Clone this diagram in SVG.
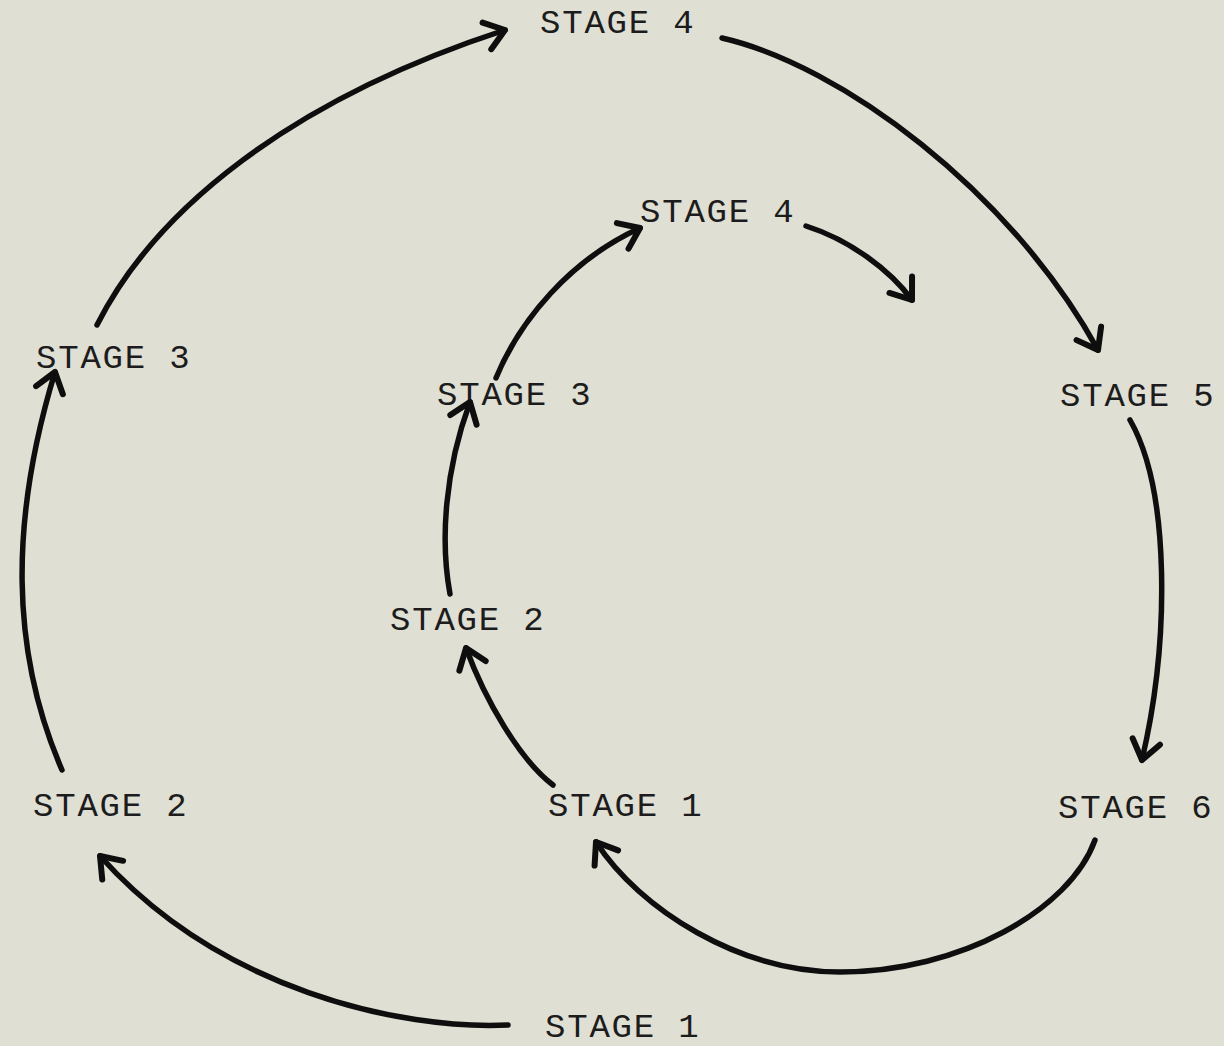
<svg xmlns="http://www.w3.org/2000/svg" width="1224" height="1046" viewBox="0 0 1224 1046">
  <style>
    .lbl { font-family: "Liberation Mono", "DejaVu Sans Mono", monospace; font-size: 34px; letter-spacing: 1.8px; fill: #1c1c1c; }
    .arc { fill: none; stroke: #0e0e0e; stroke-width: 5.5; stroke-linecap: round; stroke-linejoin: round; marker-end: url(#head); }
  </style>
  <defs>
    <marker id="head" markerUnits="userSpaceOnUse" markerWidth="40" markerHeight="40" viewBox="-30 -20 40 40" refX="0" refY="0" orient="auto">
      <path d="M-19,-14 L0,0 L-19,14" fill="none" stroke="#0e0e0e" stroke-width="6" stroke-linecap="round" stroke-linejoin="round"/>
    </marker>
  </defs>
  <rect width="1224" height="1046" fill="#dfdfd3"/>

  <!-- outer cycle -->
  <g id="outer-stage1"><text class="lbl" x="545" y="1037">STAGE 1</text></g>
  <g id="outer-stage2"><text class="lbl" x="33" y="816">STAGE 2</text></g>
  <g id="outer-stage3"><text class="lbl" x="36" y="368">STAGE 3</text></g>
  <g id="outer-stage4"><text class="lbl" x="540" y="33">STAGE 4</text></g>
  <g id="outer-stage5"><text class="lbl" x="1060" y="406">STAGE 5</text></g>
  <g id="outer-stage6"><text class="lbl" x="1058" y="818">STAGE 6</text></g>

  <!-- inner cycle -->
  <g id="inner-stage1"><text class="lbl" x="548" y="816">STAGE 1</text></g>
  <g id="inner-stage2"><text class="lbl" x="390" y="630">STAGE 2</text></g>
  <g id="inner-stage3"><text class="lbl" x="437" y="405">STAGE 3</text></g>
  <g id="inner-stage4"><text class="lbl" x="640" y="222">STAGE 4</text></g>

  <g id="connectors">
    <path class="arc" d="M508,1025 C400,1030 220,990 100,856"/>
    <path class="arc" d="M62,770 C10,650 10,520 55,372"/>
    <path class="arc" d="M97,325 C155,210 290,100 505,30"/>
    <path class="arc" d="M722,38 C840,65 1010,190 1098,350"/>
    <path class="arc" d="M1130,420 C1170,490 1170,640 1142,760"/>
    <path class="arc" d="M1095,840 C1070,910 960,972 840,972 C740,972 640,910 596,842"/>
    <path class="arc" d="M553,785 C520,760 485,700 466,648"/>
    <path class="arc" d="M450,594 C440,540 445,470 470,402"/>
    <path class="arc" d="M496,378 C520,320 570,260 640,228"/>
    <path class="arc" d="M806,226 C850,240 890,270 912,300"/>
  </g>
</svg>
